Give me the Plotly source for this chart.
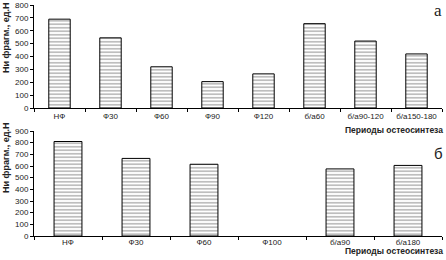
import plotly.graph_objects as go

cats_a = ["НФ", "Ф30", "Ф60", "Ф90", "Ф120", "б/а60", "б/а90-120", "б/а150-180"]
vals_a = [690, 545, 320, 205, 265, 655, 520, 420]
cats_b = ["НФ", "Ф30", "Ф60", "Ф100", "б/а90", "б/а180"]
vals_b = [810, 665, 615, None, 575, 605]

W, H = 446, 260
ML, MR, MT, MB = 34, 4, 5, 6
ph = H - MT - MB
def py(p):
    return (H - MB - p) / ph
def px(p):
    return (p - ML) / (W - ML - MR)

pattern = dict(shape="-", size=3.5, solidity=0.35, fgcolor="#444444", bgcolor="white")
fig = go.Figure()
fig.add_trace(go.Bar(x=cats_a, y=vals_a, width=0.42, xaxis="x", yaxis="y",
                     marker=dict(color="white", line=dict(color="black", width=1), pattern=pattern)))
fig.add_trace(go.Bar(x=cats_b, y=vals_b, width=0.41, xaxis="x2", yaxis="y2",
                     marker=dict(color="white", line=dict(color="black", width=1), pattern=pattern)))

font = dict(family="Liberation Sans, Arial", size=8, color="#222")
common_x = dict(showline=True, linecolor="black", linewidth=1, ticks="outside", ticklen=3,
                tickson="boundaries", tickcolor="black", showgrid=False, tickfont=font,
                tickangle=0, fixedrange=True, type="category", automargin=False)
common_y = dict(showline=True, linecolor="black", linewidth=1, ticks="outside", ticklen=3,
                tickcolor="black", showgrid=False, zeroline=False, tickfont=font,
                automargin=False)

fig.update_layout(
    width=W, height=H, margin=dict(l=ML, r=MR, t=MT, b=MB, autoexpand=False),
    paper_bgcolor="white", plot_bgcolor="white", showlegend=False,
    xaxis=dict(domain=[0, 1], anchor="y", **common_x),
    yaxis=dict(domain=[py(108), py(5)], range=[0, 800], dtick=100, anchor="x", **common_y),
    xaxis2=dict(domain=[0, 1], anchor="y2", ticklabelstandoff=-2, **common_x),
    yaxis2=dict(domain=[py(236), py(131)], range=[0, 900], dtick=100, anchor="x2", **common_y),
)

title_font = dict(family="Liberation Sans, Arial", size=9, color="#222")
ann = [
    dict(text="<b>Ни фрагм., ед.Н</b>", x=px(6), y=py(37), textangle=-90, font=title_font),
    dict(text="<b>Ни фрагм., ед.Н</b>", x=px(6), y=py(157), textangle=-90, font=title_font),
    dict(text="<b>Периоды остеосинтеза</b>", x=px(445), y=py(130), xanchor="right",
         font=dict(family="Liberation Sans, Arial", size=8.5, color="#222")),
    dict(text="<b>Периоды остеосинтеза</b>", x=px(445), y=py(251), xanchor="right",
         font=dict(family="Liberation Sans, Arial", size=8.5, color="#222")),
    dict(text="а", x=px(438), y=py(10), font=dict(family="Liberation Serif, Times New Roman", size=17, color="#222")),
    dict(text="б", x=px(438), y=py(153), font=dict(family="Liberation Sans, Arial", size=15, color="#222")),
]
for a in ann:
    a.update(xref="paper", yref="paper", showarrow=False)
    a.setdefault("xanchor", "center")
    a["yanchor"] = "middle"
fig.update_layout(annotations=ann)

fig.write_html("out.html", config={"displayModeBar": False},
               post_script="document.body.style.margin='0';")
